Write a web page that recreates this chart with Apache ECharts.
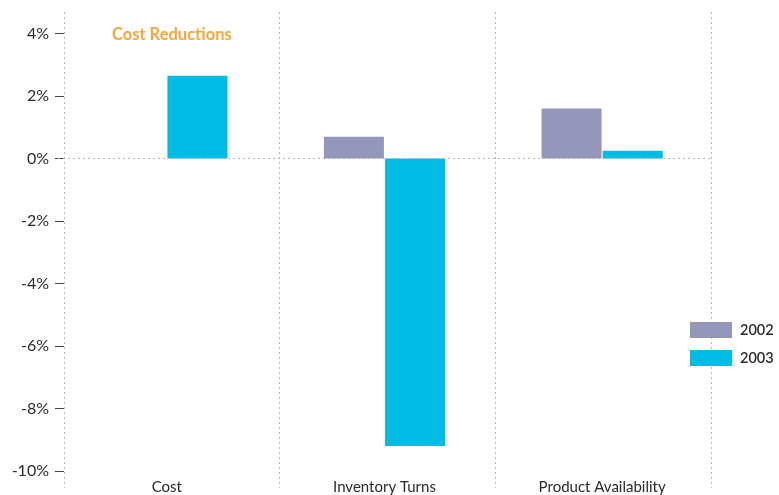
<!DOCTYPE html>
<html>
<head>
<meta charset="utf-8">
<script src="https://cdn.jsdelivr.net/npm/echarts@6/dist/echarts.min.js"></script>
<style>
  html, body { margin: 0; padding: 0; background: #fff; }
  #chart { width: 779px; height: 495px; }
</style>
</head>
<body>
<div id="chart"></div>
<script>
// Percentage change by area, two years
const categories = ['Cost', 'Inventory Turns', 'Product Availability'];
const seriesNames = ['2002', '2003'];
const values2002 = [null, 0.7, 1.6];
const values2003 = [2.65, -9.2, 0.25];
const yMin = -10, yMax = 4, yStep = 2;

const dotted = { color: '#b4b4b4', width: 1, type: [2, 3] };
const FONT = 'Lato, "Open Sans", sans-serif';

const chart = echarts.init(document.getElementById('chart'));
chart.setOption({
  animation: false,
  backgroundColor: '#ffffff',
  title: {
    text: 'Cost Reductions',
    left: 107, top: 21,
    textStyle: { color: '#f7a63a', fontSize: 16.5, fontWeight: 'bold', fontFamily: FONT }
  },
  legend: {
    orient: 'vertical',
    left: 685, top: 317,
    itemWidth: 42, itemHeight: 16, itemGap: 12,
    icon: 'rect',
    data: seriesNames,
    textStyle: { color: '#2a2a2a', fontSize: 14.5, fontWeight: 600, fontFamily: FONT, padding: [0, 0, 0, 3] }
  },
  grid: [
    { left: 58, right: 68, top: 33.5, bottom: 24 },
    { left: 64, right: 68, top: 12, bottom: 7 }
  ],
  xAxis: [
    {
      type: 'category', gridIndex: 0, data: categories,
      axisLine: { show: false }, axisTick: { show: false },
      splitLine: { show: false },
      axisLabel: { color: '#2a2a2a', fontSize: 15, fontFamily: FONT, margin: 9 }
    },
    {
      // dotted column dividers running the full height
      type: 'category', gridIndex: 1, data: categories,
      axisLine: { show: false }, axisTick: { show: false }, axisLabel: { show: false },
      splitLine: { show: true, interval: 0, lineStyle: dotted }
    }
  ],
  yAxis: [
    {
      type: 'value', gridIndex: 0, min: yMin, max: yMax, interval: yStep,
      offset: -6,
      axisLine: { show: false },
      axisTick: { show: true, length: 9, lineStyle: { color: '#444', width: 1 } },
      splitLine: { show: false },
      axisLabel: {
        color: '#2a2a2a', fontSize: 16, fontFamily: FONT, margin: 15,
        formatter: v => v + '%'
      }
    },
    { type: 'value', gridIndex: 1, show: false, splitLine: { show: false } }
  ],
  series: [
    {
      name: '2002', type: 'bar', xAxisIndex: 0, yAxisIndex: 0,
      data: values2002, barWidth: 60, barGap: '2%',
      itemStyle: { color: '#9496ba' },
      markLine: {
        silent: true, symbol: 'none', label: { show: false },
        lineStyle: dotted,
        data: [{ yAxis: 0 }]
      }
    },
    {
      name: '2003', type: 'bar', xAxisIndex: 0, yAxisIndex: 0,
      data: values2003, barWidth: 60, barGap: '2%',
      itemStyle: { color: '#00bbe3' }
    }
  ]
});
</script>
</body>
</html>
